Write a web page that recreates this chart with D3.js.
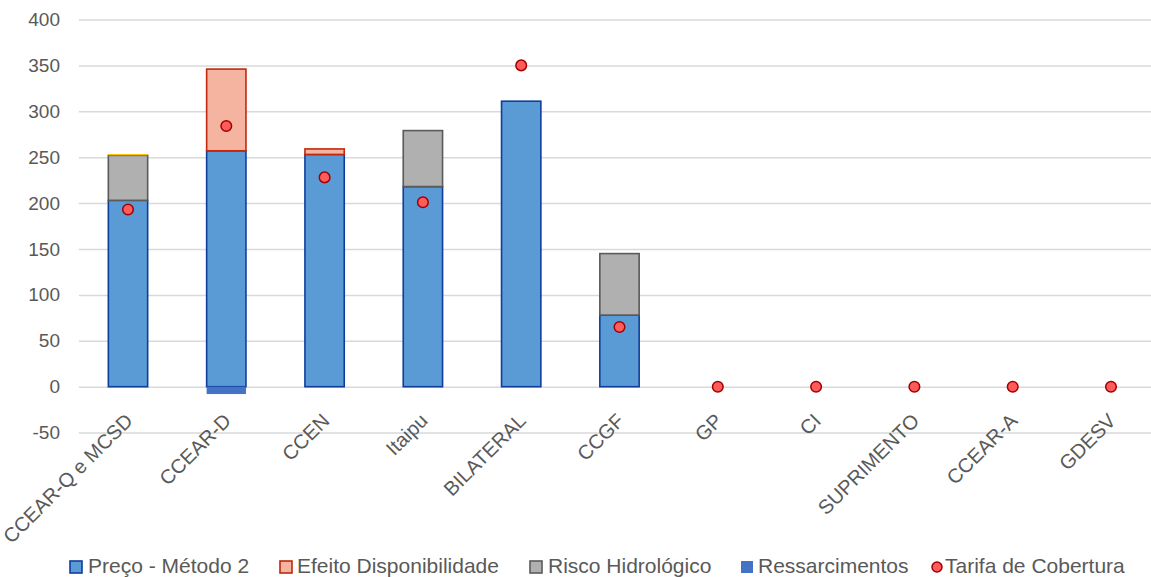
<!DOCTYPE html>
<html><head><meta charset="utf-8">
<script src="https://cdn.jsdelivr.net/npm/d3@7"></script>
<style>
html,body{margin:0;padding:0;background:#fff;}
svg{display:block;font-family:"Liberation Sans",Arial,sans-serif;}
</style></head>
<body>
<svg id="chart" width="1151" height="577"></svg>
<script>
const categories = ["CCEAR-Q e MCSD","CCEAR-D","CCEN","Itaipu","BILATERAL","CCGF","GP","CI","SUPRIMENTO","CCEAR-A","GDESV"];
const preco   = [203, 257, 253, 218, 311, 78, 0, 0, 0, 0, 0];
const efeito  = [0, 89, 6, 0, 0, 0, 0, 0, 0, 0, 0];
const risco   = [49, 0, 0, 61, 0, 67, 0, 0, 0, 0, 0];
const outros  = [1.5, 0, 0, 0, 0, 0, 0, 0, 0, 0, 0];
const ressarc = [0, -8, 0, 0, 0, 0, 0, 0, 0, 0, 0];
const tarifa  = [193, 284, 228, 201, 350, 65, 0, 0, 0, 0, 0];
const yTicks  = [-50, 0, 50, 100, 150, 200, 250, 300, 350, 400];
const legendLabels = ["Preço - Método 2","Efeito Disponibilidade","Risco Hidrológico","Ressarcimentos","Tarifa de Cobertura"];

const svg = d3.select("#chart");
const x = d3.scaleBand().domain(categories).range([78.85, 1160.15]).paddingInner(0.6).paddingOuter(0.3);
const y = d3.scaleLinear().domain([-50, 400]).range([432.6, 19.5]);
const textCol = "#595959";

// gridlines
const grid = svg.append("g").attr("transform","translate(78.85,0)")
  .call(d3.axisLeft(y).tickValues(yTicks).tickSize(-1081.3).tickFormat(""));
grid.select(".domain").remove();
grid.selectAll("line").attr("stroke","#d9d9d9").attr("stroke-width",1.5);

// y labels
const yAx = svg.append("g").attr("transform","translate(60,0)")
  .call(d3.axisLeft(y).tickValues(yTicks).tickSize(0).tickPadding(0).tickFormat(d => String(d)));
yAx.select(".domain").remove();
yAx.selectAll("text").attr("fill",textCol).style("font-size","19px")
  .style("font-family","'Liberation Sans',Arial,sans-serif");

// stacked bars
const series = [
  {vals: preco,  fill:"#5b9bd5", stroke:"#0f3d9e"},
  {vals: efeito, fill:"#f4b4a0", stroke:"#c0280f"},
  {vals: risco,  fill:"#b0b0b0", stroke:"#5a5a5a"},
  {vals: outros, fill:"#ffc000", stroke:"none"}
];
const cum = categories.map(() => 0);
series.forEach(s => {
  const g = svg.append("g");
  categories.forEach((c, i) => {
    const v = s.vals[i];
    if (v > 0) {
      const y0 = cum[i], y1 = cum[i] + v;
      g.append("rect")
        .attr("x", x(c)).attr("width", x.bandwidth())
        .attr("y", y(y1)).attr("height", y(y0) - y(y1))
        .attr("fill", s.fill)
        .attr("stroke", s.stroke).attr("stroke-width", s.stroke === "none" ? 0 : 1.6);
      cum[i] = y1;
    }
  });
});
// negative bars (Ressarcimentos)
svg.append("g").selectAll("rect")
  .data(categories.map((c,i)=>({c, v: ressarc[i]})).filter(d => d.v < 0))
  .join("rect")
  .attr("x", d => x(d.c)).attr("width", x.bandwidth())
  .attr("y", y(0)).attr("height", d => y(d.v) - y(0))
  .attr("fill", "#4472c4");

// tarifa dots
svg.append("g").selectAll("circle")
  .data(categories.map((c,i)=>({c, v: tarifa[i]})))
  .join("circle")
  .attr("cx", d => x(d.c) + x.bandwidth()/2)
  .attr("cy", d => y(d.v))
  .attr("r", 5.3)
  .attr("fill", "#ff5b5b").attr("stroke", "#a00000").attr("stroke-width", 1.5);

// x labels
svg.append("g").selectAll("text")
  .data(categories)
  .join("text")
  .attr("transform", c => `translate(${x(c) + x.bandwidth()/2 + 6},422) rotate(-45)`)
  .attr("text-anchor","end")
  .attr("fill", textCol)
  .style("font-size","20px")
  .text(c => c);

// legend
const legX = [69, 279, 529, 740, 937];
const legTextX = [88, 297, 548, 758, 945];
const legSw = [
  {fill:"#5b9bd5", stroke:"#0f3d9e"},
  {fill:"#f4b4a0", stroke:"#c0280f"},
  {fill:"#b0b0b0", stroke:"#5a5a5a"},
  {fill:"#4472c4", stroke:"none"},
  {fill:"#ff5b5b", stroke:"#a00000", circle:true}
];
const leg = svg.append("g");
legendLabels.forEach((lab, i) => {
  const s = legSw[i];
  if (s.circle) {
    leg.append("circle").attr("cx", legX[i]).attr("cy", 567).attr("r", 5)
      .attr("fill", s.fill).attr("stroke", s.stroke).attr("stroke-width", 1.5);
  } else {
    leg.append("rect").attr("x", legX[i] + 1).attr("y", 561).attr("width", 12).attr("height", 12)
      .attr("fill", s.fill).attr("stroke", s.stroke).attr("stroke-width", s.stroke === "none" ? 0 : 1.6);
  }
  leg.append("text").attr("x", legTextX[i]).attr("y", 573)
    .attr("fill", textCol).style("font-size","21px").text(lab);
});
</script>
</body></html>
